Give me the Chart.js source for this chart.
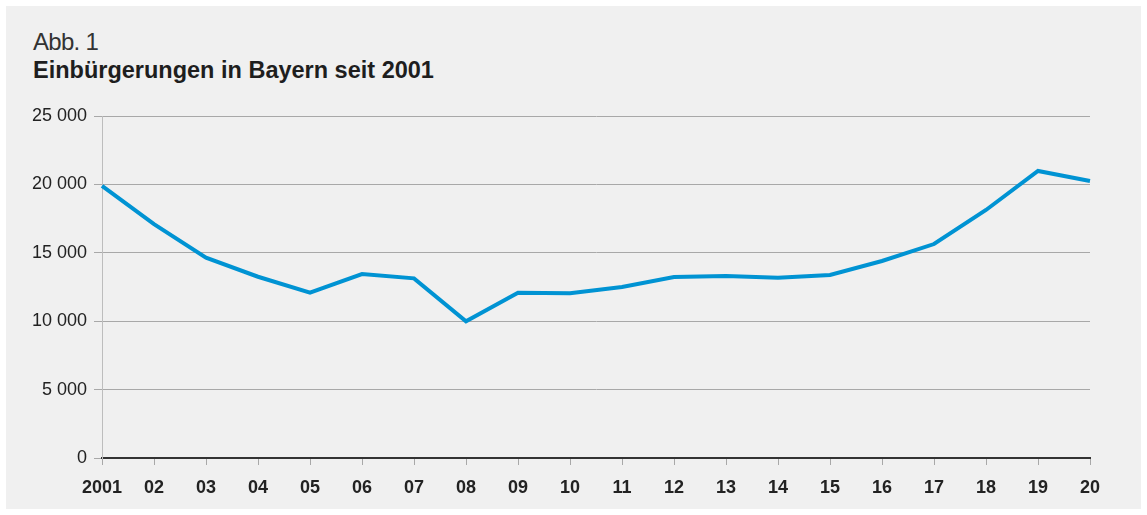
<!DOCTYPE html>
<html>
<head>
<meta charset="utf-8">
<script src="https://cdn.jsdelivr.net/npm/chart.js@4"></script>
<style>
  html, body { margin: 0; padding: 0; background: #ffffff; }
  body { width: 1147px; height: 515px; position: relative; overflow: hidden; font-family: "Liberation Sans", Arial, sans-serif; }
  #panel { position: absolute; left: 6px; top: 6px; width: 1135px; height: 503px; background: #f0f0f0; }
  #t1 { position: absolute; left: 33px; top: 28px; font-size: 24px; line-height: 28px; color: #333; font-weight: normal; letter-spacing: -0.7px; }
  #t2 { position: absolute; left: 33px; top: 57px; font-size: 23.5px; line-height: 26px; color: #1e1e1e; font-weight: bold; }
  #wrap { position: absolute; left: 0; top: 0; width: 1147px; height: 515px; }
</style>
</head>
<body>
<div id="panel"></div>
<div id="t1">Abb. 1</div>
<div id="t2">Einbürgerungen in Bayern seit 2001</div>
<div id="wrap"><canvas id="c" width="1147" height="515"></canvas></div>
<script>
const categories = ["2001","02","03","04","05","06","07","08","09","10","11","12","13","14","15","16","17","18","19","20"];
const einbuergerungen = [19900,17100,14650,13250,12080,13450,13130,9990,12080,12050,12500,13230,13300,13180,13380,14400,15640,18130,20980,20250];
const yTicks = [0,5000,10000,15000,20000,25000];

function fmt(v){ return String(v).replace(/\B(?=(\d{3})+(?!\d))/g, " "); }

new Chart(document.getElementById("c"), {
  type: "line",
  data: {
    labels: categories,
    datasets: [{
      data: einbuergerungen,
      borderColor: "#0093d3",
      borderWidth: 4,
      pointRadius: 0,
      tension: 0,
      fill: false,
      borderJoinStyle: "miter"
    }]
  },
  options: {
    responsive: false,
    animation: false,
    devicePixelRatio: 1,
    layout: { padding: { left: 0, right: 57, top: 116, bottom: 0 } },
    plugins: { legend: { display: false }, tooltip: { enabled: false } },
    scales: {
      x: {
        type: "category",
        offset: false,
        grid: { drawOnChartArea: false, drawTicks: true, tickLength: 7, color: "#a8a8a8", lineWidth: 1 },
        border: { display: true, color: "#333333", width: 2 },
        ticks: { color: "#222222", font: { family: "Liberation Sans", size: 18, weight: "bold" }, padding: 12, maxRotation: 0, autoSkip: false },
        afterFit(scale) { scale.height = 515 - 458; }
      },
      y: {
        min: 0, max: 25000,
        afterBuildTicks(scale) { scale.ticks = yTicks.map(v => ({ value: v })); },
        grid: { color: "#a8a8a8", lineWidth: 1, drawTicks: true, tickLength: 8 },
        border: { display: true, color: "#bdbdbd", width: 1 },
        ticks: { color: "#222222", font: { family: "Liberation Sans", size: 18 }, padding: 7, callback: (v) => fmt(v) },
        afterFit(scale) { scale.width = 102; }
      }
    }
  }
});
</script>
</body>
</html>
